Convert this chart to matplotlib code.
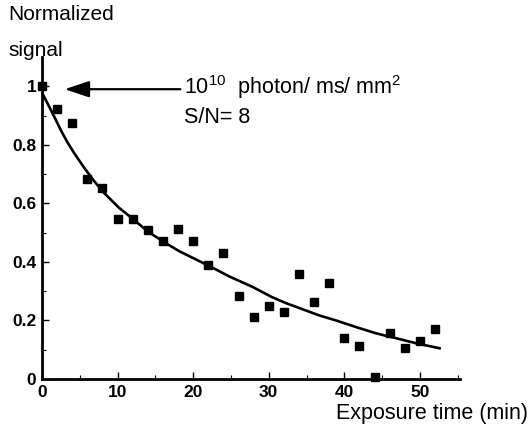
import matplotlib
matplotlib.use('Agg')
import matplotlib.pyplot as plt

# measured points (exposure time in min, normalized signal)
time_min = [0, 2, 4, 6, 8, 10, 12, 14, 16, 18, 20, 22, 24, 26,
            28, 30, 32, 34, 36, 38, 40, 42, 44, 46, 48, 50, 52]
signal = [1.0, 0.923, 0.875, 0.683, 0.653, 0.545, 0.545, 0.51, 0.472,
          0.512, 0.472, 0.39, 0.432, 0.285, 0.211, 0.251, 0.228, 0.36,
          0.263, 0.328, 0.139, 0.113, 0.008, 0.156, 0.106, 0.131, 0.172]

# fitted curve
fit_t = [0, 0.8, 1.7, 2.55, 3.4, 4.3, 5.6, 6.9, 8.2, 10.1, 12.1, 14.0, 16.0,
         18.2, 20.4, 22.2, 24.8, 27.9, 30.4, 32.3, 34.5, 36.7, 38.9, 41.6,
         44.2, 46.9, 49.5, 52.6]
fit_y = [0.978, 0.938, 0.892, 0.847, 0.807, 0.77, 0.721, 0.676, 0.636, 0.587,
         0.545, 0.504, 0.47, 0.436, 0.408, 0.385, 0.35, 0.314, 0.28, 0.259,
         0.238, 0.217, 0.2, 0.177, 0.156, 0.139, 0.122, 0.105]

xticks = [0, 10, 20, 30, 40, 50]
yticks = [0, 0.2, 0.4, 0.6, 0.8, 1]
ytick_labels = ['0', '0.2', '0.4', '0.6', '0.8', '1']

plt.rcParams['font.family'] = ['Liberation Sans', 'DejaVu Sans']
plt.rcParams['mathtext.fontset'] = 'custom'
plt.rcParams['mathtext.rm'] = 'Liberation Sans'

fig = plt.figure(figsize=(5.3, 4.28), dpi=100)
ax = fig.add_axes([42 / 530, 1 - 379 / 428, 418 / 530, 322 / 428])

ax.plot(fit_t, fit_y, color='black', lw=1.9, solid_joinstyle='round')
ax.plot(time_min, signal, 's', color='black', ms=6.2, clip_on=False)

ax.set_xlim(0, 55.3)
ax.set_ylim(0, 1.1)
ax.spines['top'].set_visible(False)
ax.spines['right'].set_visible(False)
ax.spines['left'].set_linewidth(2)
ax.spines['bottom'].set_linewidth(2)

ax.set_xticks(xticks)
ax.set_xticks([5, 15, 25, 35, 45, 55], minor=True)
ax.set_yticks(yticks)
ax.set_yticklabels(ytick_labels)
ax.set_yticks([0.1, 0.3, 0.5, 0.7, 0.9], minor=True)
ax.tick_params(which='major', direction='in', length=5, width=1,
               labelsize=12.5, pad=4)
ax.tick_params(which='minor', direction='in', length=3, width=0.8)
for lab in ax.get_xticklabels() + ax.get_yticklabels():
    lab.set_fontweight('bold')

# arrow and annotation
ax.annotate('', xy=(3.0, 0.99), xytext=(18.3, 0.99),
            arrowprops=dict(arrowstyle='-|>,head_length=1.5,head_width=0.5',
                            color='black', lw=1.6, shrinkA=0, shrinkB=0))
ax.text(18.8, 0.975, r'10$^{10}$  photon/ ms/ mm$^2$', fontsize=15.5,
        va='baseline', ha='left')
ax.text(18.8, 0.895, 'S/N= 8', fontsize=15.5, va='center', ha='left')

fig.text(8 / 530, 1 - 15 / 428, 'Normalized', fontsize=15, va='center',
         ha='left')
fig.text(8 / 530, 1 - 50 / 428, 'signal', fontsize=15, va='center', ha='left')
fig.text(528 / 530, 1 - 413 / 428, 'Exposure time (min)', fontsize=15.5,
         va='center', ha='right')

fig.savefig('out.png', dpi=100)
